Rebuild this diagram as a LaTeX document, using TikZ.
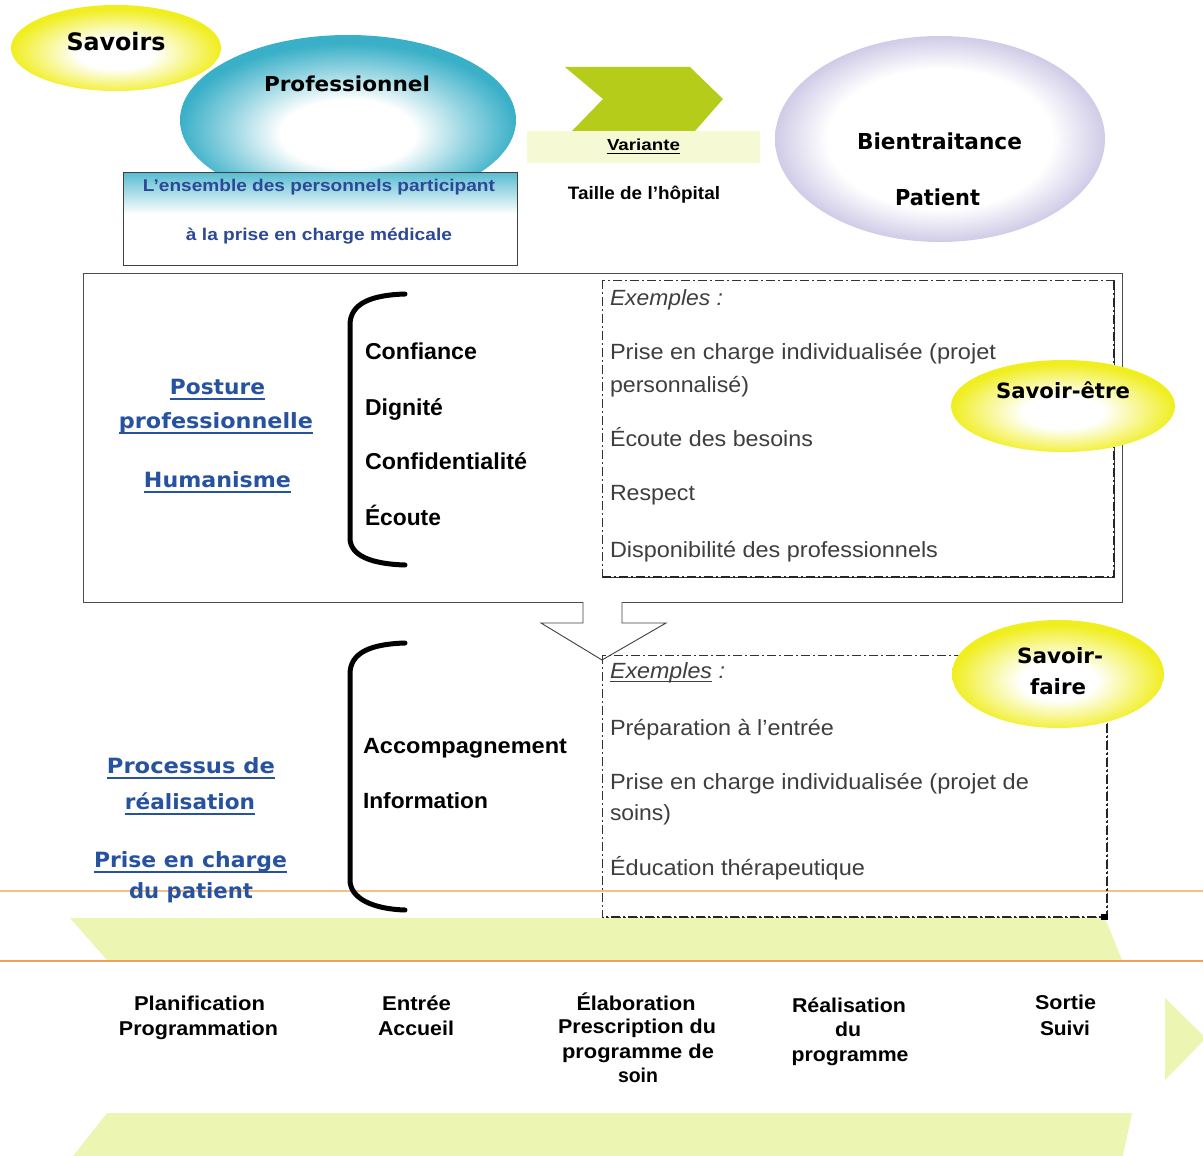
\documentclass[tikz,border=0pt]{standalone}
\usepackage{fontspec}
\setmainfont{Liberation Sans}
\newfontfamily\dvs{DejaVu Sans}
\usepackage{graphicx}
\definecolor{ylw}{RGB}{240,238,30}
\definecolor{teal1}{RGB}{58,176,200}
\definecolor{lav}{RGB}{196,190,225}
\definecolor{chev}{RGB}{182,204,26}
\definecolor{band}{RGB}{236,245,178}
\definecolor{paleband}{RGB}{245,250,212}
\definecolor{bluet}{RGB}{38,82,160}
\definecolor{boxblue}{RGB}{45,72,150}
\definecolor{grayt}{RGB}{62,62,62}
\definecolor{orl}{RGB}{245,192,130}
\definecolor{ord}{RGB}{240,160,90}
\pgfdeclareradialshading{yelsh}{\pgfpoint{0bp}{-4bp}}{color(0bp)=(white); color(9bp)=(white); color(18bp)=(ylw!55!white); color(25bp)=(ylw); color(50bp)=(ylw)}
\pgfdeclareradialshading{tealsh}{\pgfpoint{0bp}{-5bp}}{color(0bp)=(white); color(10bp)=(white); color(18bp)=(teal1!55!white); color(25bp)=(teal1); color(50bp)=(teal1)}
\pgfdeclareradialshading{lavsh}{\pgfpoint{0bp}{0bp}}{color(0bp)=(white); color(17bp)=(white); color(23bp)=(lav!60!white); color(27bp)=(lav); color(50bp)=(lav)}
\newcommand\fx[2]{\resizebox{#1pt}{\height}{#2}}
\newcommand\fsz[1]{\fontsize{#1}{#1}\selectfont}
\newcommand\myul[1]{\setbox0\hbox{#1}\rlap{\rule[-6pt]{\wd0}{2pt}}\box0\relax}
\newcommand\myulg[1]{\setbox0\hbox{#1}\rlap{\rule[-4pt]{\wd0}{1pt}}\box0\relax}
\tikzset{
  tc/.style={inner sep=0pt, outer sep=0pt, anchor=base},
  tl/.style={inner sep=0pt, outer sep=0pt, anchor=base west},
  ttl/.style={tc, font=\dvs\bfseries\fsz{#1}},
  blu/.style={tc, text=bluet, font=\dvs\bfseries\fsz{#1}},
  blk/.style={tl, font=\bfseries\fsz{23}},
  gt/.style={tl, text=grayt, font=\fsz{22}},
  bot/.style={tc, font=\bfseries\fsz{20}},
  dashbox/.style={draw=black!80, line width=1pt, dash pattern=on 9pt off 3pt on 2pt off 3pt},
  dashshadow/.style={draw=black!85, line width=2.4pt, dash pattern=on 9pt off 3pt on 2pt off 3pt},
}
\begin{document}
\begin{tikzpicture}[x=1pt,y=-1pt]
\useasboundingbox (0,0) rectangle (1203,1156);
\clip (0,0) rectangle (1203,1156);
\fill[white] (0,0) rectangle (1203,1156);

% ---- bottom chevron bands and orange lines
\fill[band] (70,918) -- (1105,918) -- (1122,960) -- (107,960) -- cycle;
\fill[band] (107,1113) -- (1132,1113) -- (1122,1160) -- (70,1160) -- cycle;
\fill[band] (1165,998) -- (1206,1038) -- (1165,1080) -- cycle;
\draw[orl, line width=1.2pt] (0,891) -- (1203,891);
\draw[ord, line width=2pt] (0,961) -- (1203,961);

% ---- top ellipses
\shade[shading=tealsh] (348,120) ellipse [x radius=168pt, y radius=85pt];
\shade[shading=yelsh] (116,48) ellipse [x radius=105pt, y radius=43pt];
\shade[shading=lavsh] (940,139) ellipse [x radius=165pt, y radius=103pt];

% ---- box under Professionnel
\fill[white] (123,172) rectangle (517,265);
\shade[top color=teal1!85!white, bottom color=white] (123,172) rectangle (517,214);
\draw[black!75, line width=1pt] (123,172) rectangle (517,265);

% ---- chevron and Variante band
\fill[chev] (565,67) -- (690,67) -- (723,99) -- (695,131) -- (572,131) -- (603,99) -- cycle;
\fill[paleband] (527,131) rectangle (760,163);

% ---- top texts
\node[ttl=24] (savoirs) at (116,51) {\fx{99}{Savoirs}};
\node[ttl=20.5] (prof) at (347,92) {\fx{166}{Professionnel}};
\node[tc, text=boxblue, font=\bfseries\fsz{17}] (ens1) at (319,191) {\fx{352}{L'ensemble des personnels participant}};
\node[tc, text=boxblue, font=\bfseries\fsz{17}] (ens2) at (319,240) {\fx{266}{à la prise en charge médicale}};
\node[tc, font=\bfseries\fsz{16}] (var) at (643.5,150) {\fx{73}{\myulg{Variante}}};
\node[tc, font=\bfseries\fsz{18}] (taille) at (644,199) {\fx{152}{Taille de l'hôpital}};
\node[ttl=22] (bien) at (939.5,149) {\fx{165}{Bientraitance}};
\node[ttl=22] (patient) at (937.5,205) {\fx{85}{Patient}};

% ---- big box
\draw[black!70, line width=1pt] (83,273) rectangle (1122,602);

% down arrow
\fill[white] (583,600) -- (583,623) -- (541,623) -- (602,660) -- (666,623) -- (622,623) -- (622,600) -- cycle;
\draw[black!75, line width=0.9pt] (583,602) -- (583,623) -- (541,623) -- (602,660) -- (666,623) -- (622,623) -- (622,602);

% brackets
\draw[line width=5pt, line cap=round] (405,294) .. controls (372,295) and (350,303) .. (350,325) -- (350,538) .. controls (350,556) and (372,564) .. (405,565);
\draw[line width=5pt, line cap=round] (405,643) .. controls (372,644) and (350,652) .. (350,674) -- (350,880) .. controls (350,898) and (372,909) .. (405,910);

% dashed boxes
\draw[dashbox] (602,280) rectangle (1114,577);
\draw[dashshadow] (1114,281) -- (1114,577) -- (603,577);
\draw[dashbox] (602,655) rectangle (1107,917);
\draw[dashshadow] (1107,656) -- (1107,917) -- (603,917);
\fill[black] (1101,914) rectangle (1108,920);

% ---- yellow ellipses over the boxes
\shade[shading=yelsh] (1063,406) ellipse [x radius=112pt, y radius=46pt];
\shade[shading=yelsh] (1058,674) ellipse [x radius=106pt, y radius=54pt];

% ---- middle texts
\node[blu=21] (posture) at (217.5,394) {\fx{95}{\myul{Posture}}};
\node[blu=21] (profn) at (216,428) {\fx{194}{\myul{professionnelle}}};
\node[blu=21] (human) at (217.5,487) {\fx{147}{\myul{Humanisme}}};

\node[blk] (conf) at (365,359) {\fx{112}{Confiance}};
\node[blk] (dign) at (365,415) {\fx{78}{Dignité}};
\node[blk] (confid) at (365,469) {\fx{162}{Confidentialité}};
\node[blk] (ecoute) at (365,525) {\fx{76}{Écoute}};

\node[gt] (ex1) at (610,305) {\fx{113}{\itshape Exemples :}};
\node[gt] (g1) at (610,359) {\fx{386}{Prise en charge individualisée (projet}};
\node[gt] (g2) at (610,392) {\fx{139}{personnalisé)}};
\node[gt] (g3) at (610,446) {\fx{203}{Écoute des besoins}};
\node[gt] (g4) at (610,500) {\fx{85}{Respect}};
\node[gt] (g5) at (610,557) {\fx{328}{Disponibilité des professionnels}};

\node[ttl=21] (setre) at (1063,398) {\fx{134}{Savoir-être}};

% ---- lower texts
\node[blu=21] (proc) at (191,773) {\fx{168}{\myul{Processus de}}};
\node[blu=21] (real) at (190,809) {\fx{130}{\myul{réalisation}}};
\node[blu=21] (prise) at (190.5,867) {\fx{193}{\myul{Prise en charge}}};
\node[blu=21] (dupat) at (191,898) {\fx{124}{du patient}};

\node[blk, font=\bfseries\fsz{22}] (accomp) at (363,753) {\fx{204}{Accompagnement}};
\node[blk, font=\bfseries\fsz{22}] (info) at (363,808) {\fx{125}{Information}};

\node[gt] (ex2) at (610,678) {\fx{115}{\itshape\myulg{Exemples} :}};
\node[gt] (h1) at (610,735) {\fx{224}{Préparation à l'entrée}};
\node[gt] (h2) at (610,789) {\fx{419}{Prise en charge individualisée (projet de}};
\node[gt] (h3) at (610,820) {\fx{61}{soins)}};
\node[gt] (h4) at (610,875) {\fx{255}{Éducation thérapeutique}};

\node[ttl=21] (sf1) at (1060,663) {\fx{86}{Savoir-}};
\node[ttl=21] (sf2) at (1058,694) {\fx{56}{faire}};

% ---- bottom labels
\node[bot] (b1a) at (199.5,1010) {\fx{131}{Planification}};
\node[bot] (b1b) at (198.5,1035) {\fx{159}{Programmation}};
\node[bot] (b2a) at (416.5,1010) {\fx{69}{Entrée}};
\node[bot] (b2b) at (416,1035) {\fx{76}{Accueil}};
\node[bot] (b3a) at (636,1010) {\fx{119}{Élaboration}};
\node[bot] (b3b) at (637,1033) {\fx{158}{Prescription du}};
\node[bot] (b3c) at (638,1058) {\fx{152}{programme de}};
\node[bot] (b3d) at (638,1082) {\fx{40}{soin}};
\node[bot] (b4a) at (849,1012) {\fx{114}{Réalisation}};
\node[bot] (b4b) at (848,1036) {\fx{26}{du}};
\node[bot] (b4c) at (850,1061) {\fx{117}{programme}};
\node[bot] (b5a) at (1065.5,1009) {\fx{61}{Sortie}};
\node[bot] (b5b) at (1065,1035) {\fx{50}{Suivi}};
\end{tikzpicture}
\end{document}
